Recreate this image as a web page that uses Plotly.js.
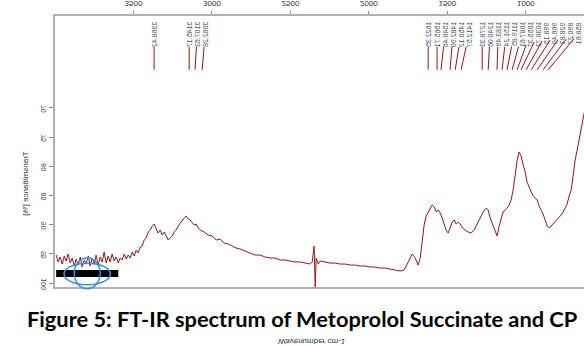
<!DOCTYPE html>
<html><head><meta charset="utf-8">
<script src="https://cdn.plot.ly/plotly-3.0.1.min.js"></script>
<style>
html,body{margin:0;padding:0;width:584px;height:346px;overflow:hidden;background:#fff;}
#chart{position:absolute;left:0;top:0;width:640px;height:346px;transform:scaleY(-1);transform-origin:50% 50%;}
#caption{position:absolute;left:27px;top:305px;font-family:Lato,'Liberation Sans',sans-serif;font-weight:bold;font-size:21.8px;color:#000;white-space:nowrap;}
</style></head>
<body>
<div id="chart"></div>
<div id="caption">Figure 5: FT-IR spectrum of Metoprolol Succinate and CP</div>
<script>
// Spectrum (wavenumber cm-1, transmittance %)
const wavenumber = [3992,3980,3967,3954,3941,3929,3916,3903,3890,3878,3865,3852,3839,3827,3814,3801,3788,3776,3763,3750,3738,3725,3712,3699,3687,3674,3661,3648,3636,3623,3610,3597,3585,3572,3559,3546,3534,3521,3508,3495,3483,3470,3457,3444,3432,3419,3406,3393,3381,3368,3355,3343,3330,3317,3304,3292,3279,3266,3253,3241,3228,3215,3202,3190,3177,3164,3151,3139,3126,3113,3100,3088,3075,3049,3024,2998,2973,2948,2922,2897,2871,2846,2820,2788,2756,2725,2693,2661,2629,2597,2565,2533,2502,2470,2438,2406,2374,2361,2355,2349,2342,2336,2323,2310,2279,2247,2215,2183,2151,2119,2087,2056,2024,1992,1960,1928,1896,1864,1833,1801,1775,1750,1724,1705,1686,1673,1661,1648,1635,1622,1610,1597,1584,1571,1559,1546,1533,1520,1508,1495,1482,1469,1457,1444,1431,1418,1406,1387,1367,1348,1329,1310,1291,1272,1253,1240,1227,1208,1195,1183,1170,1157,1145,1132,1119,1106,1094,1081,1068,1055,1043,1030,1017,1004,992,979,966,953,941,928,915,902,890,877,864,851,839,826,813,800,788,775,762,749,737,724,711,698,686,673,660,648,635,622,590,558,527,495,463,431,400];
const transmittance = [95.21,96.40,95.55,96.75,95.38,96.23,95.03,96.58,95.72,97.09,95.89,96.92,95.55,97.26,96.06,96.58,95.38,97.09,95.72,96.75,95.21,96.92,95.55,96.40,94.69,96.58,95.38,96.40,95.03,96.23,95.55,96.58,95.72,96.06,95.03,95.89,95.21,95.72,94.69,95.38,94.35,94.86,93.84,93.66,92.64,92.29,91.27,90.92,90.24,89.90,90.75,91.44,90.92,91.78,91.27,91.95,92.64,92.29,91.95,91.27,90.92,90.24,89.73,89.21,88.87,88.53,89.04,89.21,89.55,90.07,89.90,90.58,90.92,91.27,91.78,91.95,92.64,92.47,93.15,93.32,93.66,94.01,94.18,94.52,94.86,95.21,95.21,95.55,95.72,95.72,96.06,96.06,96.23,96.40,96.40,96.58,96.75,96.40,94.35,93.66,100.68,95.72,96.75,96.23,96.40,96.58,96.58,96.75,96.75,96.92,96.92,97.09,97.09,97.26,97.26,97.43,97.43,97.60,97.77,97.95,97.77,96.40,95.03,95.72,96.92,95.72,92.64,90.07,88.53,87.84,87.16,86.64,86.99,87.84,87.50,88.01,88.87,89.90,90.92,91.44,90.58,89.55,89.21,89.90,89.55,89.90,90.41,90.92,91.27,91.44,90.92,89.90,88.87,87.84,87.16,87.50,88.87,90.24,90.92,91.95,90.24,88.87,87.84,87.50,87.16,86.64,85.79,84.08,81.51,78.94,77.57,78.25,79.79,80.99,82.71,83.73,84.42,85.10,85.45,85.79,86.82,87.50,88.19,89.21,90.24,90.58,90.24,89.90,89.55,89.21,88.87,88.36,87.84,87.16,86.47,85.10,84.08,81.51,78.94,77.23,75.51,73.46,71.58,70.03,66.95,65.24,66.95,68.67,67.81,68.67,69.52];

// Picked peaks (cm-1) whose labels fall inside the visible figure
const peakWavenumbers = [3368.42,3145.17,3107.63,3062.28,1622.35,1565.71,1540.46,1482.90,1450.12,1412.57,1278.33,1240.06,1183.49,1151.24,1119.85,1087.61,1055.37,1030.72,998.15,966.40,928.83,890.27,858.61];

const xTickValues = [3500,3000,2500,2000,1500,1000];
const xTickLabels = ['3500','3000','2500','2000','1500','1000'];
const yTickValues = [70,75,80,85,90,95,100];
const yTickLabels = ['70','75','80','85','90','95','100'];

const RED = '#8b1c1c';
const W = 640, H = 346;
const margin = {l:55, r:20, t:59, b:16};
const xRange = [4000, 400];
const yRange = [54.28, 100.68];
const plotW = W - margin.l - margin.r;
const pxPerWn = plotW / (xRange[0] - xRange[1]);
const markerTip = 63.5;

const annotations = [];
let prevLabel = -1e9;
peakWavenumbers.forEach(wn => {
  const px = (xRange[0] - wn) * pxPerWn;
  const lab = Math.max(px, prevLabel + 8);
  prevLabel = lab;
  annotations.push({
    x: wn, y: markerTip, xref: 'x', yref: 'y',
    text: wn.toFixed(2), textangle: -90,
    font: {family: 'Liberation Sans, Arial, sans-serif', size: 7, color: '#4a5260'},
    showarrow: true, arrowhead: 0, arrowwidth: 1, arrowcolor: RED,
    ax: lab - px, ay: 36, borderpad: 0
  });
});
annotations.push({
  xref: 'paper', yref: 'paper', x: -0.062, y: 0.62, textangle: -90,
  text: 'Transmittance [%]', showarrow: false,
  font: {family: 'Liberation Sans, Arial, sans-serif', size: 8, color: '#333'}
});
annotations.push({
  xref: 'paper', yref: 'paper', x: 0.455, y: 1.2, yanchor: 'middle',
  text: 'Wavenumber cm-1', showarrow: false,
  font: {family: 'Liberation Sans, Arial, sans-serif', size: 8, color: '#333'}
});

const data = [{
  x: wavenumber, y: transmittance, type: 'scatter', mode: 'lines',
  line: {color: RED, width: 1}, hoverinfo: 'skip'
}];

const layout = {
  width: W, height: H, margin: margin,
  paper_bgcolor: '#fff', plot_bgcolor: '#fff', showlegend: false,
  xaxis: {
    range: xRange, tickvals: xTickValues, ticktext: xTickLabels,
    ticks: 'outside', ticklen: 3, tickcolor: '#888', tickwidth: 1,
    showline: true, linecolor: '#b0b0b0', linewidth: 2, mirror: true,
    showgrid: false, zeroline: false, automargin: false,
    tickfont: {family: 'Liberation Sans, Arial, sans-serif', size: 8, color: '#333'}
  },
  yaxis: {
    range: yRange, tickvals: yTickValues, ticktext: yTickLabels,
    ticks: 'outside', ticklen: 4, tickcolor: '#888', tickwidth: 1, tickangle: -90,
    showline: true, linecolor: '#b0b0b0', linewidth: 2,
    showgrid: false, zeroline: false, automargin: false,
    tickfont: {family: 'Liberation Sans, Arial, sans-serif', size: 7, color: '#444'}
  },
  annotations: annotations,
  shapes: [
    {type: 'rect', xref: 'paper', yref: 'paper', x0: 0.002, x1: 0.112, y0: 0.937, y1: 0.963, fillcolor: '#000', line: {width: 0}},
    {type: 'circle', xref: 'paper', yref: 'paper', x0: 0.016, x1: 0.098, y0: 0.912, y1: 0.992, line: {color: '#3a8ee6', width: 1.5}},
    {type: 'circle', xref: 'paper', yref: 'paper', x0: 0.034, x1: 0.080, y0: 0.893, y1: 1.006, line: {color: '#3a8ee6', width: 1.5}}
  ]
};

Plotly.newPlot('chart', data, layout, {staticPlot: true, displayModeBar: false});
</script>
</body></html>
